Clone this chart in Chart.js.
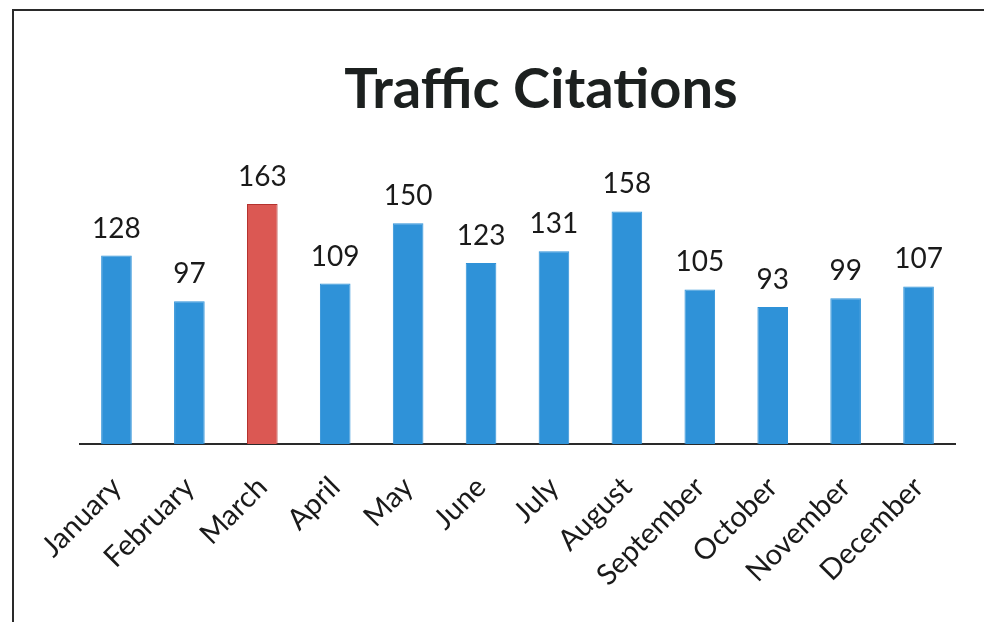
<!DOCTYPE html>
<html lang="en">
<head>
    <meta charset="UTF-8">
    <title>Traffic Citations</title>
    <script src="https://cdn.jsdelivr.net/npm/chart.js"></script>
    <style>
        html, body { margin: 0; background: #fff; overflow: hidden; }
        canvas { display: block; }
    </style>
</head>
<body>
    <canvas id="citationsChart" width="984" height="622"></canvas>

    <script>
        // Data
        const months = ['January', 'February', 'March', 'April', 'May', 'June',
                        'July', 'August', 'September', 'October', 'November', 'December'];
        const citations = [128, 97, 163, 109, 150, 123, 131, 158, 105, 93, 99, 107];
        const highlightMonth = 'March';
        const chartTitle = 'Traffic Citations';

        const blue = '#2f92d8';
        const red = '#db5853';

        // Page frame (left and top edges only, like the scanned page) and the title
        const framePlugin = {
            id: 'frameAndTitle',
            beforeDraw(chart) {
                const ctx = chart.ctx;
                ctx.save();
                ctx.fillStyle = '#fff';
                ctx.fillRect(0, 0, chart.width, chart.height);
                ctx.strokeStyle = '#2a2a2a';
                ctx.lineWidth = 2;
                ctx.beginPath();
                ctx.moveTo(13, chart.height);
                ctx.lineTo(13, 10);
                ctx.lineTo(chart.width, 10);
                ctx.stroke();
                ctx.restore();
            },
            afterDraw(chart) {
                const ctx = chart.ctx;
                ctx.save();
                ctx.font = 'bold 56px Lato';
                ctx.fillStyle = '#1c201f';
                ctx.textAlign = 'center';
                ctx.textBaseline = 'alphabetic';
                ctx.fillText(chartTitle, 541, 108);
                ctx.restore();
            }
        };

        // Value labels above each bar
        const valueLabels = {
            id: 'valueLabels',
            afterDatasetsDraw(chart) {
                const ctx = chart.ctx;
                const meta = chart.getDatasetMeta(0);
                ctx.save();
                ctx.font = '28px Lato';
                ctx.fillStyle = '#1a1a1a';
                ctx.textAlign = 'center';
                ctx.textBaseline = 'alphabetic';
                meta.data.forEach((bar, i) => {
                    ctx.fillText(citations[i], bar.x, bar.y - 18);
                });
                ctx.restore();
            }
        };

        new Chart(document.getElementById('citationsChart').getContext('2d'), {
            type: 'bar',
            data: {
                labels: months,
                datasets: [{
                    data: citations,
                    backgroundColor: months.map(m => m === highlightMonth ? red : blue),
                    borderColor: months.map(m => m === highlightMonth ? '#b5322e' : blue),
                    borderWidth: 1,
                    barPercentage: 0.42,
                    categoryPercentage: 1
                }]
            },
            options: {
                responsive: false,
                animation: false,
                layout: { padding: { left: 80, right: 29, top: 179, bottom: 0 } },
                plugins: {
                    legend: { display: false },
                    title: { display: false },
                    tooltip: { enabled: false }
                },
                scales: {
                    x: {
                        grid: { display: false },
                        border: { display: true, color: '#2a2a2a', width: 2 },
                        ticks: {
                            color: '#1a1a1a',
                            font: { family: 'Lato', size: 29 },
                            minRotation: 45,
                            maxRotation: 45,
                            padding: 18
                        },
                        afterFit(scale) { scale.height = 178; }
                    },
                    y: {
                        display: false,
                        min: 0,
                        max: 180
                    }
                }
            },
            plugins: [framePlugin, valueLabels]
        });
    </script>
</body>
</html>
